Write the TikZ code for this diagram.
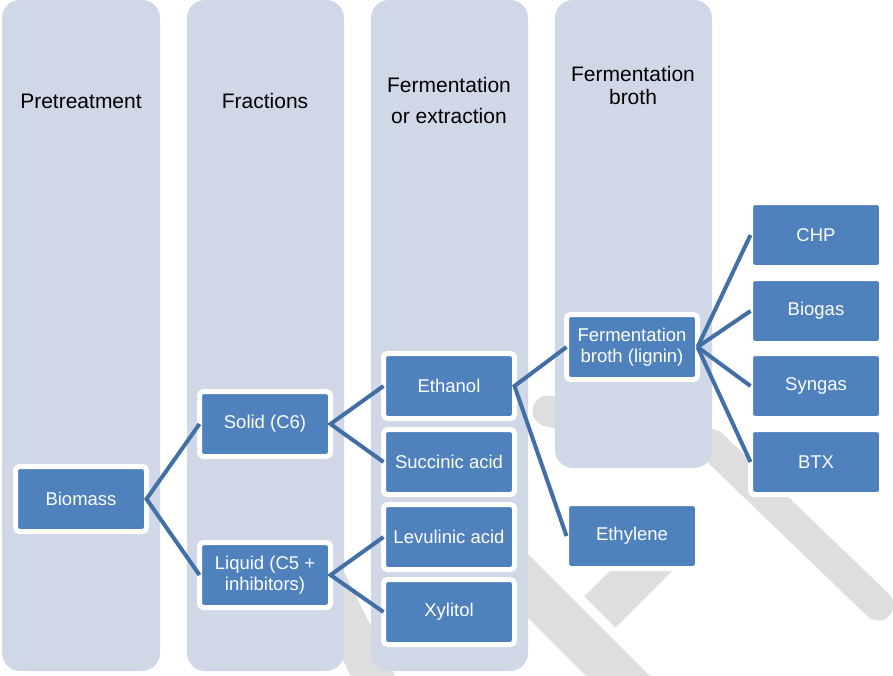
\documentclass[tikz,border=0pt]{standalone}
\usepackage{fontspec}
\setmainfont{Liberation Sans}
\usepackage{tikz}
\definecolor{colfill}{HTML}{D0D8E8}
\definecolor{boxblue}{HTML}{4F81BD}
\definecolor{linkblue}{HTML}{416FA6}
\definecolor{markgray}{HTML}{DEDEDE}

\begin{document}
\begin{tikzpicture}[x=1pt, y=-1pt,
  column/.style={fill=colfill, rounded corners=18pt},
  head/.style={inner sep=0pt, align=center, font=\fontsize{21}{23}\selectfont},
  box/.style={rectangle, rounded corners=4pt, fill=boxblue, draw=white, line width=5pt,
    minimum width=131pt, minimum height=65pt, inner sep=0pt, outer sep=0pt,
    text=white, align=center, font=\fontsize{18.5}{20.5}\selectfont},
  link/.style={draw=linkblue, line width=4pt},
  wmark/.style={draw=markgray, line width=31pt, line join=round}]
\useasboundingbox (0,0) rectangle (893,675);

\draw[wmark, line cap=round] (548,411) -- (712,445) -- (878,605);
\draw[wmark, line width=45pt] (500,558) -- (640,698);
\draw[wmark, line width=44pt] (680,532) -- (600,612);
\draw[wmark, line width=40pt] (320,568) -- (378,686);

\fill[column] (2,0) rectangle (160,671);
\fill[column] (187,0) rectangle (344,671);
\fill[column] (371,0) rectangle (528,671);
\fill[column] (555,0) rectangle (712,468);

\node (h1) at (81,101) [head] {Pretreatment};
\node (h2) at (265,101) [head] {Fractions};
\node (h3) at (449,100) [head, font=\fontsize{21}{31}\selectfont] {Fermentation\\or extraction};
\node (h4) at (633,85) [head] {Fermentation\\broth};

\node (bio) at (81,499) [box] {Biomass};
\node (sol) at (265,424) [box] {Solid (C6)};
\node (liq) at (265,575) [box] {Liquid (C5 +\\inhibitors)};
\node (eth) at (449,386) [box] {Ethanol};
\node (suc) at (449,462) [box] {Succinic acid};
\node (lev) at (449,537) [box] {Levulinic acid};
\node (xyl) at (449,612) [box] {Xylitol};
\node (fbl) at (632,347) [box] {Fermentation\\broth (lignin)};
\node (ety) at (632,536) [box] {Ethylene};
\node (chp) at (816,235) [box] {CHP};
\node (bgs) at (816,311) [box] {Biogas};
\node (syn) at (816,386) [box] {Syngas};
\node (btx) at (816,462) [box] {BTX};

\draw[link] (sol.west) -- (bio.east) -- (liq.west);
\draw[link] (eth.west) -- (sol.east) -- (suc.west);
\draw[link] (lev.west) -- (liq.east) -- (xyl.west);
\draw[link] (fbl.west) -- (eth.east) -- (ety.west);
\draw[link] (fbl.east) -- (chp.west);
\draw[link] (fbl.east) -- (bgs.west);
\draw[link] (fbl.east) -- (syn.west);
\draw[link] (fbl.east) -- (btx.west);
\end{tikzpicture}
\end{document}
